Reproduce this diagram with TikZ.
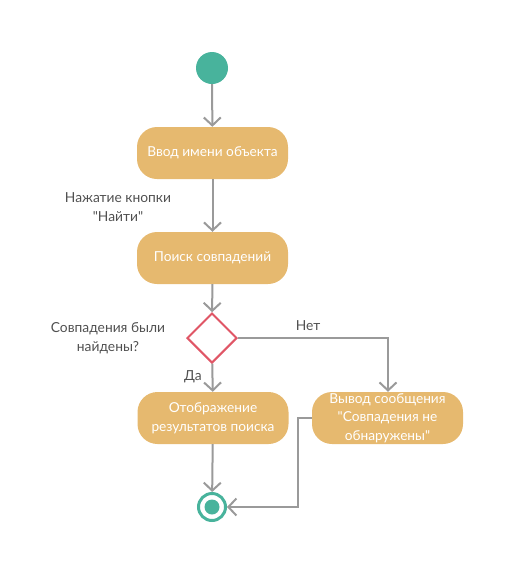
\documentclass[tikz,border=0pt]{standalone}
\usepackage{fontspec}
\setmainfont{Lato}[Ligatures=TeXOff]
\usetikzlibrary{arrows.meta,shapes.geometric}
\definecolor{boxfill}{HTML}{E6B96F}
\definecolor{startc}{HTML}{48B39C}
\definecolor{diamc}{HTML}{E05666}
\definecolor{linec}{HTML}{9A9A9A}
\definecolor{txtc}{HTML}{505050}
\tikzset{
  actbox/.style={draw=none,fill=boxfill,rounded corners=20pt,minimum width=151pt,minimum height=52pt,text=white,align=center,font=\fontsize{13.7}{18.7}\selectfont,inner sep=0pt},
  conn/.style={draw=linec,line width=2pt,-{Straight Barb[length=8pt,width=17pt,line width=2pt]}},
  lbl/.style={text=txtc,align=center,font=\fontsize{13.8}{19}\selectfont,inner sep=0pt}
}
\begin{document}
\begin{tikzpicture}[x=1pt,y=-1pt]
\useasboundingbox (0,0) rectangle (512,579);
\node[circle,fill=startc,minimum size=32pt,inner sep=0pt] (start) at (212,68) {};
\node[actbox] (b1) at (212.5,153) {Ввод имени объекта};
\node[actbox] (b2) at (212.5,258) {Поиск совпадений};
\node[diamond,draw=diamc,line width=2pt,fill=white,minimum width=50pt,minimum height=50pt,inner sep=0pt] (d) at (212,338) {};
\node[actbox] (b3) at (213,418) {Отображение\\результатов поиска};
\node[actbox] (b4) at (387.5,418) {Вывод сообщения\\"Совпадения не\\обнаружены"};
\node[circle,draw=startc,line width=3pt,fill=white,minimum size=27pt,inner sep=0pt] (end) at (212,507) {};
\node[circle,fill=startc,minimum size=15pt,inner sep=0pt] (endin) at (212,507) {};
\node[lbl] (l1) at (118,207) {Нажатие кнопки\\"Найти"};
\node[lbl] (l2) at (108,338.5) {Совпадения были\\найдены?};
\node[lbl] (l3) at (308,326) {Нет};
\node[lbl] (l4) at (193,377) {Да};
\coordinate (c1) at (388,338);
\coordinate (c2) at (298,418);
\coordinate (c3) at (298,507);
\draw[conn] (start) -- (b1);
\draw[conn] (b1) -- (b2);
\draw[conn] (b2) -- (d);
\draw[conn] (d) -- (b3);
\draw[conn] (d.east) -- (c1) -- (b4.north -| c1);
\draw[conn] (b3) -- (end);
\draw[conn] (b4.west |- c2) -- (c2) -- (c3) -- (end);
\end{tikzpicture}
\end{document}
